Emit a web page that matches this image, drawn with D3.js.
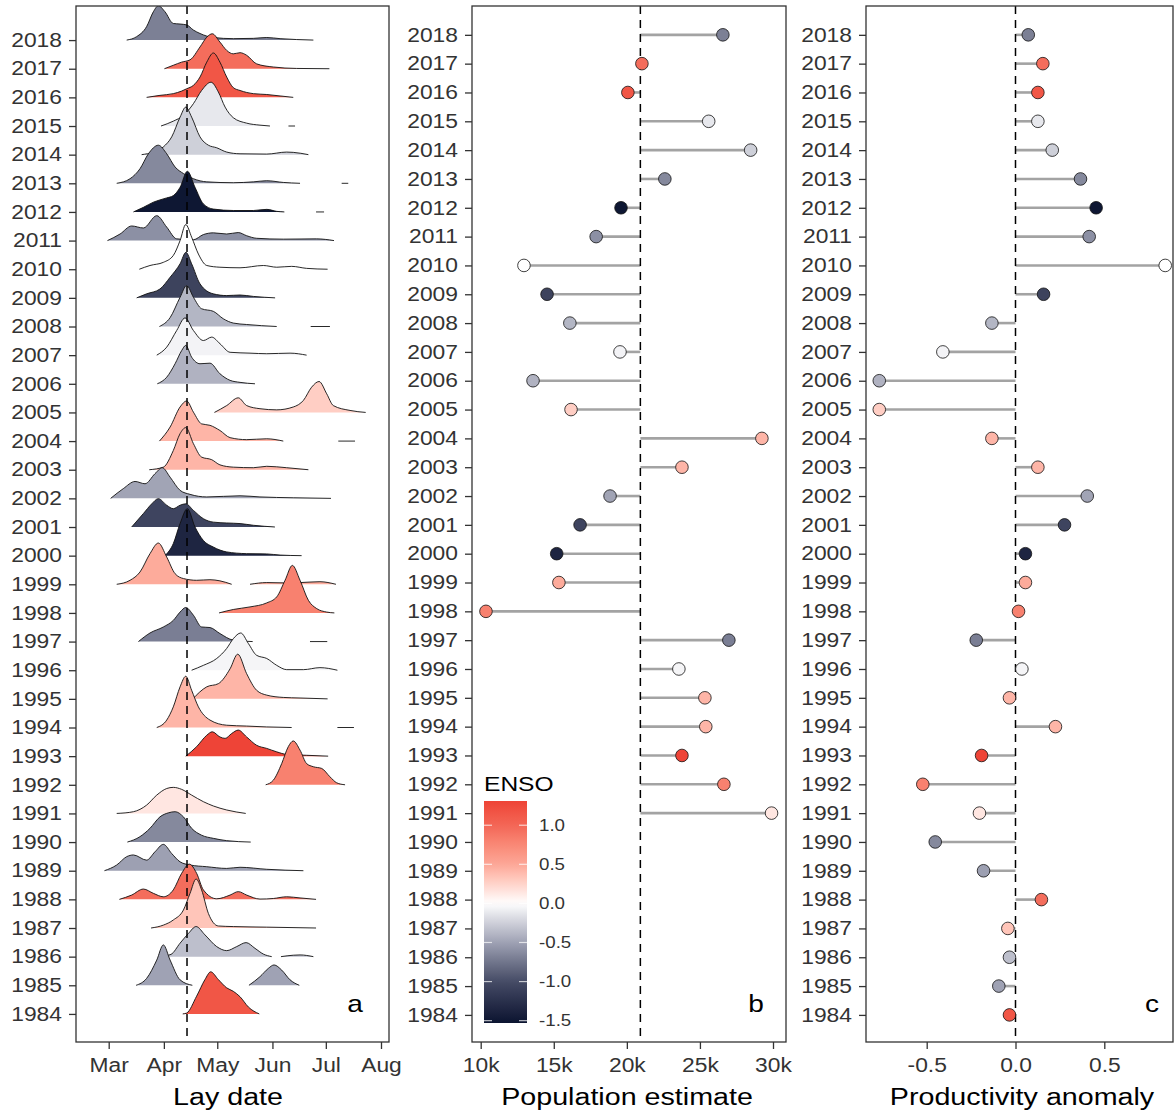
<!DOCTYPE html>
<html>
<head>
<meta charset="utf-8">
<script src="https://cdn.jsdelivr.net/npm/d3@7"></script>
<style>
  body { margin: 0; background: #fff; }
  svg { display: block; }
</style>
</head>
<body>
<svg id="chart" width="1175" height="1113"></svg>
<script>
// ---- data (all arrays aligned with years, 1984 -> 2018) ----
const years = [1984, 1985, 1986, 1987, 1988, 1989, 1990, 1991, 1992, 1993,
  1994, 1995, 1996, 1997, 1998, 1999, 2000, 2001, 2002, 2003, 2004, 2005,
  2006, 2007, 2008, 2009, 2010, 2011, 2012, 2013, 2014, 2015, 2016, 2017, 2018];

const enso = [1.15, -0.50, -0.34, 0.33, 0.95, -0.51, -0.64, 0.14, 0.80, 1.30,
  0.42, 0.42, -0.05, -0.70, 0.80, 0.48, -1.36, -1.07, -0.49, 0.42, 0.42, 0.28,
  -0.41, -0.06, -0.39, -1.08, 0.00, -0.60, -1.50, -0.64, -0.25, -0.12, 1.15, 0.95, -0.69];

// population estimate (no survey before 1991)
const population = [null, null, null, null, null, null, null, 29900, 26640, 23770,
  25400, 25340, 23560, 26980, 10360, 15350, 15200, 16800, 18850, 23770, 29240, 16180,
  13580, 19530, 16100, 14540, 12960, 17900, 19600, 22600, 28470, 25600, 20070, 21030, 26570];

const productivity = [-0.034, -0.094, -0.034, -0.043, 0.146, -0.180, -0.452, -0.203, -0.522, -0.191,
  0.225, -0.034, 0.036, -0.221, 0.017, 0.056, 0.056, 0.276, 0.404, 0.126, -0.133, -0.767,
  -0.767, -0.409, -0.133, 0.158, 0.843, 0.415, 0.454, 0.366, 0.207, 0.126, 0.126, 0.154, 0.072];

// lay date density ridges: segments of [day of year, height in rows]
const layDensity = [
  [[[101.6,0],[103.8,0.03],[109.4,0.62],[114.1,1.2],[117.3,1.47],[121.6,1.2],[126.3,0.91],[130,0.79],[133.8,0.6],[138.5,0.24],[144.6,0]]],
  [[[75.4,0],[81.3,0.24],[87,0.88],[90.7,1.41],[94.5,0.88],[100.1,0.19],[107,0]],
   [[138.8,0],[145,0.3],[149.7,0.59],[152.9,0.71],[157.2,0.53],[161.9,0.19],[167.1,0]]],
  [[[89,0],[95,0.08],[100.1,0.47],[104.8,0.81],[109.1,1.05],[114.1,0.76],[120.7,0.35],[126.3,0.21],[131.9,0.35],[137.2,0.49],[142.2,0.29],[146.9,0.09],[151.6,0]],
   [[156.8,0],[163.7,0.05],[167.5,0.06],[175,0]]],
  [[[83.8,0],[90.7,0.1],[96.3,0.28],[102,0.63],[105.7,1.21],[109.1,1.71],[112.2,1.33],[116,0.51],[121.6,0.07],[130,0.05],[148.8,0.03],[176.5,0]]],
  [[[66,0],[72.9,0.15],[79.5,0.36],[85.1,0.21],[90.7,0.09],[96.3,0.33],[101,0.91],[105.3,1.23],[109.4,0.91],[113.2,0.33],[120.7,0.02],[128.2,0.15],[132.8,0.27],[137.5,0.15],[145,0.01],[152.5,0.03],[160,0.09],[167.5,0.05],[176.5,0]]],
  [[[57.6,0],[64.5,0.2],[70.1,0.49],[73.9,0.55],[81.3,0.37],[86,0.66],[90.7,0.92],[95.4,0.6],[100.1,0.31],[105.7,0.2],[115.1,0.14],[126.3,0.08],[133.8,0.12],[148.8,0.05],[169.4,0]]],
  [[[70.5,0],[77.6,0.19],[83.2,0.48],[88.8,0.88],[93.5,1.02],[97.3,1.06],[102,0.88],[106.6,0.48],[112.2,0.24],[118.8,0.13],[126.3,0.05],[139.8,0]]],
  [[[64.5,0],[73.9,0.06],[81.3,0.29],[87,0.64],[92.6,0.87],[96.3,0.91],[101,0.84],[106.6,0.64],[113.2,0.41],[118.8,0.26],[126.3,0.12],[137,0]]],
  [[[148.2,0],[152.5,0.16],[157.2,0.74],[160.9,1.33],[163.7,1.53],[167.5,1.21],[171.2,0.74],[175,0.63],[179.7,0.57],[184.3,0.28],[188.1,0.07],[192.8,0]]],
  [[[103.3,0],[109.4,0.33],[115.1,0.73],[118.2,0.85],[122.5,0.67],[125.4,0.62],[129.1,0.79],[132.8,0.91],[137.5,0.67],[143.1,0.38],[148.8,0.27],[154.4,0.15],[160,0.06],[171.2,0.03],[183.3,0]]],
  [[[87,0],[92.6,0.26],[96.3,0.72],[100.1,1.42],[103.3,1.79],[106.6,1.3],[110.4,0.72],[116.9,0.26],[126.3,0.08],[137.5,0.05],[148.8,0.02],[162.8,0]],
   [[188.5,0],[197.8,0]]],
  [[[107.2,0],[115.1,0.42],[121.6,0.53],[128.2,1.05],[132.5,1.56],[137.5,0.88],[143.1,0.3],[148.8,0.13],[158.1,0.05],[167.5,0.03],[183,0]]],
  [[[106.6,0],[113.2,0.17],[120.7,0.41],[126.3,0.76],[130,1.1],[134.2,1.3],[138.5,0.93],[143.1,0.52],[148.8,0.41],[154.4,0.17],[160,0.02],[169.4,0.02],[178.7,0.09],[188.5,0]]],
  [[[76.7,0],[83.2,0.3],[90.7,0.51],[96.3,0.74],[100.1,1.03],[103.3,1.19],[107.6,0.92],[112.2,0.51],[116.9,0.49],[122.5,0.28],[130,0.05],[140.9,0]],
   [[173.1,0],[182.8,0]]],
  [[[122,0],[130,0.12],[139.4,0.21],[148.8,0.35],[154.4,0.56],[159.1,1.14],[163.2,1.66],[167.5,1.14],[172.2,0.44],[176.9,0.15],[182.5,0.03],[186.8,0]]],
  [[[64.5,0],[72,0.14],[77.6,0.43],[83.2,1.07],[87.9,1.44],[92.6,0.95],[97.3,0.37],[102,0.2],[109.4,0.14],[116.9,0.16],[122.5,0.12],[129.1,0]],
   [[139.4,0],[148.8,0.06],[158.1,0.05],[167.5,0.06],[178.7,0.09],[187.7,0]]],
  [[[91.6,0],[96.3,0.42],[100.1,1.12],[104.2,1.64],[108.5,1.0],[113.2,0.53],[118.8,0.3],[126.3,0.13],[137.5,0.07],[148.8,0.06],[156.3,0.02],[168.4,0]]],
  [[[72.9,0],[79.5,0.47],[84.2,0.81],[87.9,0.99],[92.6,0.76],[96.3,0.64],[100.1,0.76],[103.3,0.81],[107.6,0.58],[113.2,0.29],[118.8,0.17],[126.3,0.14],[133.8,0.12],[141.3,0.06],[153.4,0]]],
  [[[61.1,0],[68.2,0.34],[74.8,0.59],[80.4,0.51],[86,0.86],[90.1,1.07],[94.5,0.74],[100.1,0.28],[105.7,0.14],[115.1,0.05],[133.8,0.09],[145,0.05],[163.7,0.02],[184.9,0]]],
  [[[82.8,0],[90.7,0.09],[96.3,0.67],[100.1,1.26],[103.3,1.47],[107.6,0.91],[112.2,0.44],[117.9,0.35],[122.5,0.17],[130,0.09],[141.3,0.07],[148.8,0.12],[160,0.07],[172.2,0]]],
  [[[88.5,0],[94.5,0.49],[100.1,1.19],[103.8,1.4],[107.6,1.01],[112.2,0.6],[116.9,0.55],[122.5,0.37],[128.2,0.12],[137.5,0.05],[148.8,0.08],[158.1,0]],
   [[189,0],[198.4,0]]],
  [[[119.4,0],[126.3,0.24],[132.8,0.51],[137.5,0.24],[145,0.13],[154.4,0.09],[163.7,0.19],[169.4,0.42],[174,0.88],[178.2,1.08],[182.5,0.65],[186.2,0.24],[195.6,0.07],[204.4,0]]],
  [[[87.3,0],[92.6,0.23],[97.3,0.7],[101,1.16],[103.3,1.34],[106.6,0.93],[111.3,0.7],[116.9,0.72],[122.5,0.35],[128.2,0.12],[133.8,0.05],[142.2,0]]],
  [[[87,0],[92.6,0.28],[98.2,0.86],[102.9,1.3],[107.6,0.86],[113.2,0.51],[117.9,0.63],[122.5,0.4],[128.2,0.1],[139.4,0.07],[148.8,0.05],[161.9,0.07],[171.2,0]]],
  [[[88.5,0],[94.5,0.31],[100.1,1.02],[103.8,1.43],[107.6,1.02],[112.2,0.62],[118.8,0.53],[124.4,0.27],[130,0.12],[137.5,0.07],[154.4,0]],
   [[173.5,0],[184.3,0]]],
  [[[75.7,0],[81.3,0.14],[88.8,0.31],[94.5,0.72],[100.1,1.19],[103.4,1.59],[106.6,1.19],[111.3,0.49],[118.8,0.14],[126.3,0.08],[133.8,0.1],[141.3,0.05],[153.5,0]]],
  [[[77.2,0],[83.2,0.13],[90.7,0.24],[96.3,0.48],[100.1,1.0],[103.3,1.56],[106.6,1.12],[110.4,0.53],[115.1,0.13],[122.5,0.07],[133.8,0.05],[146.9,0.13],[154.4,0.07],[162.8,0.1],[171.2,0.03],[183,0]]],
  [[[59.3,0],[66.4,0.23],[72.9,0.51],[79.5,0.44],[87,0.87],[92.6,0.47],[98.2,0.06],[107.6,0.03],[113.2,0.21],[118.8,0.27],[126.3,0.23],[132.8,0.28],[137.5,0.17],[143.1,0.08],[158.1,0.05],[176.8,0.06],[186.6,0]]],
  [[[73.9,0],[79.5,0.16],[85.1,0.34],[88.8,0.42],[92.6,0.49],[96.3,0.57],[100.1,0.86],[104.2,1.42],[108.5,0.86],[113.2,0.28],[118.8,0.1],[130,0.05],[141.3,0.05],[148.8,0.09],[154.4,0.02],[158.7,0]],
   [[176.5,0],[181,0]]],
  [[[64.5,0],[72,0.16],[77.6,0.51],[82.3,1.03],[87.9,1.33],[92.6,1.03],[97.3,0.57],[102,0.34],[107.6,0.16],[115.1,0.05],[130,0.02],[141.3,0.05],[148.8,0.09],[158.1,0.03],[167.5,0]],
   [[190.9,0],[194.6,0]]],
  [[[78.5,0],[85.1,0.09],[90.7,0.27],[95.4,0.62],[100.1,1.31],[103.3,1.66],[106.6,1.31],[111.3,0.62],[116,0.33],[120.7,0.24],[126.3,0.09],[133.8,0.03],[148.8,0.02],[160,0.09],[163.7,0.08],[172.2,0]]],
  [[[89.4,0],[96.3,0.17],[102,0.37],[107.6,0.78],[112.2,1.24],[117.5,1.53],[121.6,1.19],[125.4,0.66],[130,0.29],[137.5,0.1],[145,0.03],[150.6,0]],
   [[161,0],[164.7,0]]],
  [[[81.3,0],[88.8,0.07],[96.3,0.13],[101,0.22],[103.8,0.3],[107.6,0.42],[111.3,0.71],[115.1,1.23],[118.8,1.55],[122.5,1.23],[126.3,0.71],[130,0.34],[133.8,0.24],[141.3,0.13],[148.8,0.1],[156.3,0.05],[163.7,0]]],
  [[[91.3,0],[96.3,0.12],[101,0.23],[105.7,0.31],[111.3,0.76],[115.1,1.1],[118.2,1.22],[122.5,0.93],[126.3,0.64],[130,0.52],[133.8,0.56],[137.5,0.47],[143.1,0.17],[152.5,0.06],[165.6,0.01],[184,0]]],
  [[[70.1,0],[75.7,0.12],[81.3,0.47],[85.1,0.99],[87.9,1.2],[91.6,0.99],[96.3,0.58],[100.1,0.56],[103.8,0.53],[107.6,0.35],[111.3,0.23],[118.8,0.09],[130,0.05],[141.3,0.06],[148.8,0.09],[156.3,0.05],[175,0]]]
];

const meanLayDay = 104;
const monthTicks = [60, 91, 121, 152, 182, 213];
const monthLabels = ["Mar", "Apr", "May", "Jun", "Jul", "Aug"];
const popTicks = [10000, 15000, 20000, 25000, 30000];
const prodTicks = [-0.5, 0, 0.5];
const ensoBreaks = [-1.5, -1, -0.5, 0, 0.5, 1];
const ensoStops = [-1.53, -1.0, -0.5, 0, 0.5, 1.0, 1.31];
const ensoColors = ["#0b1430", "#464c66", "#9fa2b4", "#ffffff", "#fca797", "#f36656", "#ee4336"];

// ---- setup ----
const svg = d3.select("#chart");
const FONT = "'Liberation Sans', Arial, Helvetica, sans-serif";
const SX = 1.17;            // text in the figure is a bit wide
const INK = "#333333";
const SEG = "#a3a3a3";
const TOP = 6, BOTTOM = 1042;

const color = d3.scaleLinear().domain(ensoStops).range(ensoColors)
  .interpolate(d3.interpolateLab).clamp(true);

// plain hyphen minus, like the original
const fmt1 = v => d3.format(".1f")(v).replace("\u2212", "-");

function label(x, y, str, size, anchor, fill, family) {
  return svg.append("text")
    .attr("transform", `translate(${x},${y}) scale(${SX},1)`)
    .attr("text-anchor", anchor)
    .style("font-family", family || FONT)
    .style("font-size", size + "px")
    .attr("fill", fill)
    .text(str);
}

function frame(x0, x1) {
  svg.append("rect")
    .attr("x", x0).attr("y", TOP)
    .attr("width", x1 - x0).attr("height", BOTTOM - TOP)
    .attr("fill", "none").attr("stroke", INK).attr("stroke-width", 1.3);
}

function yAxis(scale, x0) {
  const g = svg.append("g").attr("transform", `translate(${x0},0)`)
    .call(d3.axisLeft(scale).tickValues(years).tickFormat(d3.format("d")).tickSize(7));
  g.select(".domain").remove();
  g.selectAll("line").attr("stroke", INK).attr("stroke-width", 1.3);
  g.selectAll("text")
    .attr("x", -14 / SX).attr("transform", `scale(${SX},1)`)
    .attr("fill", INK)
    .style("font-family", FONT).style("font-size", "19.5px");
}

function xAxis(scale, ticks, fmt) {
  const g = svg.append("g").attr("transform", `translate(0,${BOTTOM})`)
    .call(d3.axisBottom(scale).tickValues(ticks).tickFormat(fmt).tickSize(7).tickPadding(9));
  g.select(".domain").remove();
  g.selectAll("line").attr("stroke", INK).attr("stroke-width", 1.3);
  g.selectAll("text")
    .attr("transform", `scale(${SX},1)`)
    .attr("fill", INK)
    .style("font-family", FONT).style("font-size", "19.5px");
}

function dashed(x) {
  svg.append("line")
    .attr("x1", x).attr("x2", x).attr("y1", TOP).attr("y2", BOTTOM)
    .attr("stroke", "#000").attr("stroke-width", 1.5)
    .attr("stroke-dasharray", "8,6");
}

// ---- panel a: lay date ridgelines ----
const xA = d3.scaleLinear().domain([60, 213]).range([108.7, 381]);
const yA = d3.scaleLinear().domain([1983.02, 2019.19]).range([BOTTOM, TOP]);
const rowH = yA(1984) - yA(1985);

svg.append("clipPath").attr("id", "clipA")
  .append("rect").attr("x", 76).attr("y", TOP).attr("width", 313).attr("height", BOTTOM - TOP);

const ridges = svg.append("g").attr("clip-path", "url(#clipA)");
for (let i = years.length - 1; i >= 0; i--) {
  const base = yA(years[i]);
  const area = d3.area().curve(d3.curveMonotoneX)
    .x(d => xA(d[0])).y0(base).y1(d => base - d[1] * rowH);
  const line = d3.line().curve(d3.curveMonotoneX)
    .x(d => xA(d[0])).y(d => base - d[1] * rowH);
  layDensity[i].forEach(seg => {
    ridges.append("path").attr("d", area(seg))
      .attr("fill", color(enso[i])).attr("stroke", "none");
    ridges.append("path").attr("d", line(seg))
      .attr("fill", "none").attr("stroke", "#111").attr("stroke-width", 0.9);
  });
}
dashed(xA(meanLayDay));
frame(76, 389);
yAxis(yA, 76);
xAxis(xA, monthTicks, (d, i) => monthLabels[i]);
label(228, 1105, "Lay date", 24.5, "middle", "#000");
label(355, 1012, "a", 24, "middle", "#000");

// ---- panel b: population estimate ----
const xB = d3.scaleLinear().domain([10000, 30000]).range([480.7, 773]);
const yB = d3.scaleLinear().domain([1983.06, 2019.0]).range([BOTTOM, TOP]);
const popMean = d3.mean(population.filter(v => v != null));
const popRows = years.map((y, i) => ({ year: y, v: population[i], e: enso[i] })).filter(d => d.v != null);

svg.append("g").selectAll("line").data(popRows).join("line")
  .attr("x1", xB(popMean)).attr("x2", d => xB(d.v))
  .attr("y1", d => yB(d.year)).attr("y2", d => yB(d.year))
  .attr("stroke", SEG).attr("stroke-width", 2.6);
dashed(xB(popMean));
svg.append("g").selectAll("circle").data(popRows).join("circle")
  .attr("cx", d => xB(d.v)).attr("cy", d => yB(d.year)).attr("r", 6.3)
  .attr("fill", d => color(d.e)).attr("stroke", "#111").attr("stroke-width", 0.8);
frame(472, 786);
yAxis(yB, 472);
xAxis(xB, popTicks, d => d / 1000 + "k");
label(627, 1105, "Population estimate", 24.5, "middle", "#000");
label(756, 1012, "b", 24, "middle", "#000");

// ENSO legend
const yL = d3.scaleLinear().domain([-1.53, 1.31]).range([1023, 801]);
const grad = svg.append("defs").append("linearGradient").attr("id", "ensoGrad")
  .attr("x1", 0).attr("x2", 0).attr("y1", 1).attr("y2", 0);
d3.range(0, 1.0001, 1 / 40).forEach(t => {
  const v = -1.53 + t * (1.31 + 1.53);
  grad.append("stop").attr("offset", t).attr("stop-color", color(v));
});
svg.append("rect").attr("x", 484).attr("y", yL(1.31)).attr("width", 43)
  .attr("height", yL(-1.53) - yL(1.31)).attr("fill", "url(#ensoGrad)");
ensoBreaks.forEach(b => {
  [[484, 492], [519, 527]].forEach(([a, c]) => {
    svg.append("line").attr("x1", a).attr("x2", c).attr("y1", yL(b)).attr("y2", yL(b))
      .attr("stroke", "#fff").attr("stroke-opacity", 0.7).attr("stroke-width", 1.2);
  });
  label(539, yL(b) + 5.5, fmt1(b), 16, "start", INK);
});
label(484, 791, "ENSO", 21, "start", "#000");

// ---- panel c: productivity anomaly ----
const xC = d3.scaleLinear().domain([-0.5, 0.5]).range([926.7, 1104.3]);
const prodRows = years.map((y, i) => ({ year: y, v: productivity[i], e: enso[i] }));

svg.append("g").selectAll("line").data(prodRows).join("line")
  .attr("x1", xC(0)).attr("x2", d => xC(d.v))
  .attr("y1", d => yB(d.year)).attr("y2", d => yB(d.year))
  .attr("stroke", SEG).attr("stroke-width", 2.6);
dashed(xC(0));
svg.append("g").selectAll("circle").data(prodRows).join("circle")
  .attr("cx", d => xC(d.v)).attr("cy", d => yB(d.year)).attr("r", 6.3)
  .attr("fill", d => color(d.e)).attr("stroke", "#111").attr("stroke-width", 0.8);
frame(866, 1173);
yAxis(yB, 866);
xAxis(xC, prodTicks, fmt1);
label(1022, 1105, "Productivity anomaly", 24.5, "middle", "#000");
label(1152, 1012, "c", 24, "middle", "#000");
</script>
</body>
</html>
